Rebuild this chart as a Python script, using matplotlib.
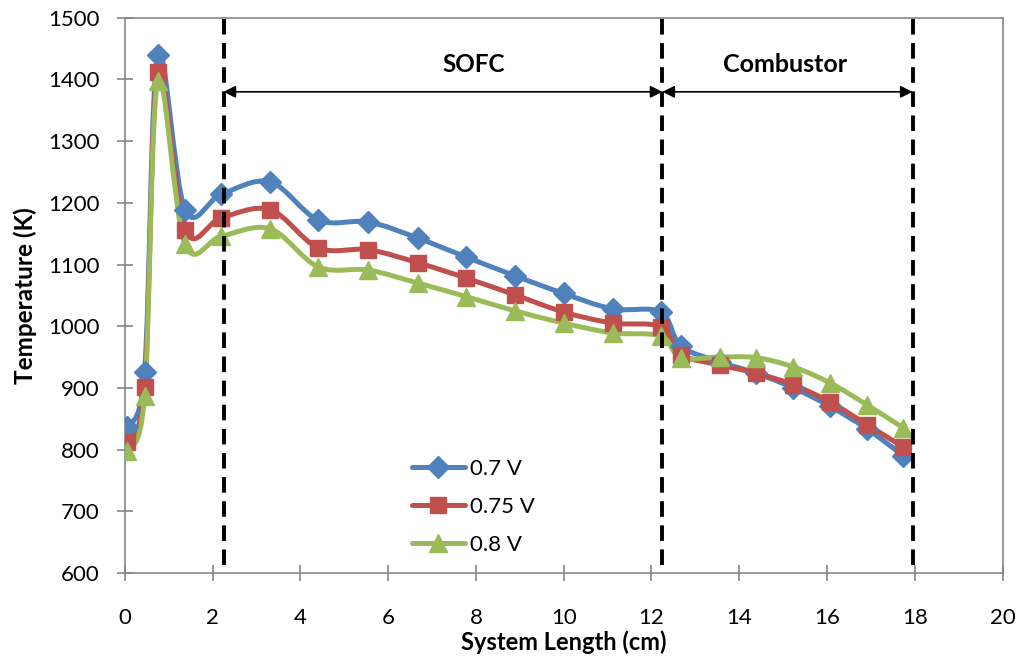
import matplotlib
matplotlib.use("Agg")
import matplotlib.pyplot as plt
import matplotlib.lines as mlines
from matplotlib.path import Path
from matplotlib.patches import PathPatch
import numpy as np

plt.rcParams["font.family"] = ["Lato", "DejaVu Sans"]

# ------------------------------------------------------------------
# data
# ------------------------------------------------------------------
x_cm = [0.05, 0.45, 0.75, 1.37, 2.2, 3.31, 4.41, 5.55, 6.67, 7.78, 8.88,
        10.0, 11.12, 12.21, 12.67, 13.56, 14.38, 15.23, 16.07, 16.92, 17.74]

t_07 = [837, 926, 1440, 1189, 1214, 1234, 1172, 1169, 1143, 1112, 1082,
        1053, 1028, 1023, 968, 942, 924, 900, 870, 833, 790]
t_075 = [812, 902, 1412, 1156, 1176, 1189, 1127, 1124, 1103, 1078, 1051,
         1023, 1005, 999, 954, 937, 924, 905, 877, 840, 804]
t_08 = [798, 886, 1398, 1133, 1146, 1158, 1096, 1091, 1070, 1048, 1025,
        1005, 989, 984, 949, 950, 949, 934, 908, 872, 835]

SERIES = [
    ("0.7 V", t_07, "#4F81BD", "D", 11),
    ("0.75 V", t_075, "#C0504D", "s", 11),
    ("0.8 V", t_08, "#9BBB59", "^", 13),
]

SOFC_START, SOFC_END, COMB_END = 2.25, 12.25, 17.95
ARROW_Y = 1380


def smooth_path(xs, ys):
    """Excel-style smoothed line: cubic Bezier through every point."""
    p = np.column_stack([xs, ys]).astype(float)
    verts = [p[0]]
    codes = [Path.MOVETO]
    n = len(p)
    for i in range(n - 1):
        p0 = p[i - 1] if i > 0 else p[i]
        p3 = p[i + 2] if i + 2 < n else p[i + 1]
        c1 = p[i] + (p[i + 1] - p0) / 6.0
        c2 = p[i + 1] - (p3 - p[i]) / 6.0
        verts += [c1, c2, p[i + 1]]
        codes += [Path.CURVE4] * 3
    return Path(verts, codes)


fig, ax = plt.subplots(figsize=(10.23, 6.6), dpi=100)
fig.subplots_adjust(left=0.122, right=0.980, top=0.973, bottom=0.132)

handles = []
for label, ys, color, marker, ms in SERIES:
    ax.add_patch(PathPatch(smooth_path(x_cm, ys), facecolor="none",
                           edgecolor=color, lw=3.6, capstyle="round",
                           joinstyle="round", zorder=3))
    ax.plot(x_cm, ys, ls="none", marker=marker, ms=ms, color=color,
            markeredgecolor=color, zorder=4)
    handles.append(mlines.Line2D([], [], color=color, lw=3.6, marker=marker,
                                 ms=ms, solid_capstyle="round", label=label))

# section boundaries
for xv in (SOFC_START, SOFC_END, COMB_END):
    ax.plot([xv, xv], [612, 1500], color="black", lw=2.8,
            ls=(0, (4, 2.2)), zorder=5)

arrow_kw = dict(arrowstyle="<|-|>", color="black", lw=1.2,
                mutation_scale=18, shrinkA=0, shrinkB=0)
ax.annotate("", xy=(SOFC_START, ARROW_Y), xytext=(SOFC_END, ARROW_Y),
            arrowprops=arrow_kw, zorder=6)
ax.annotate("", xy=(SOFC_END, ARROW_Y), xytext=(COMB_END, ARROW_Y),
            arrowprops=arrow_kw, zorder=6)
ax.text(7.95, 1425, "SOFC", ha="center", va="center", fontsize=17.5,
        fontweight="bold")
ax.text(15.05, 1425, "Combustor", ha="center", va="center", fontsize=18,
        fontweight="bold")

ax.set_xlim(0, 20)
ax.set_ylim(600, 1500)
ax.set_xticks(range(0, 21, 2))
ax.set_yticks(range(600, 1501, 100))
ax.tick_params(direction="inout", length=12, width=1.2, color="#868686",
               labelsize=16)
ax.tick_params(axis="x", pad=19)
ax.tick_params(axis="y", pad=12)
for sp in ax.spines.values():
    sp.set_color("#868686")
    sp.set_linewidth(1.2)

ax.set_xlabel("System Length (cm)", fontsize=17, fontweight="bold",
              labelpad=2)
ax.set_ylabel("Temperature (K)", fontsize=17.5, fontweight="bold",
              labelpad=8)

ax.legend(handles=handles, loc="upper left", bbox_to_anchor=(0.327, 0.205),
          frameon=False, fontsize=16, handlelength=2.4, labelspacing=0.8,
          handletextpad=0.2, borderaxespad=0, borderpad=0)

fig.savefig("out.png", dpi=100)
